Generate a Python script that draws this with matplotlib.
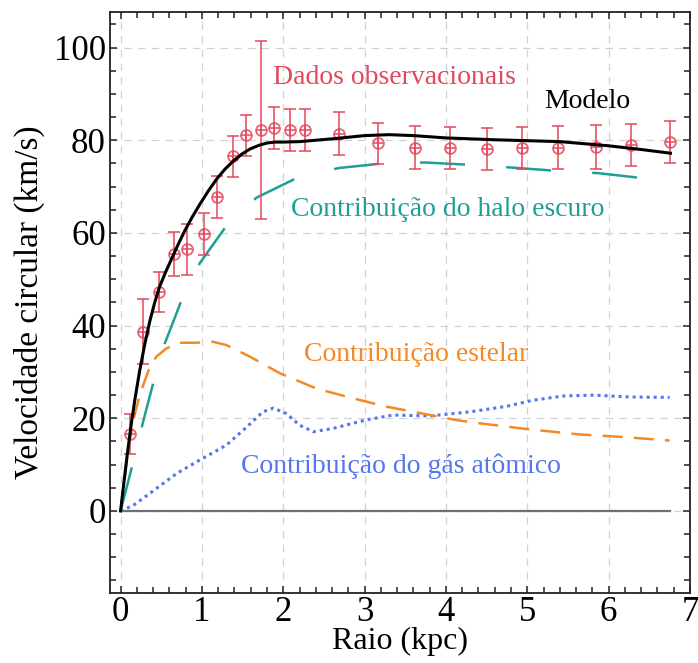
import numpy as np
import matplotlib
matplotlib.use('Agg')
import matplotlib.pyplot as plt
from matplotlib.ticker import MultipleLocator

plt.rcParams['font.family'] = ['Liberation Serif', 'DejaVu Serif']

# observed rotation curve
r_obs = [0.11, 0.27, 0.475, 0.655, 0.82, 1.02, 1.18, 1.38, 1.54, 1.73, 1.89, 2.08, 2.27,
         2.68, 3.17, 3.62, 4.05, 4.50, 4.93, 5.38, 5.85, 6.28, 6.75]
v_obs = [16.6, 38.7, 47.3, 55.4, 56.5, 59.8, 67.8, 76.5, 81.1, 82.2, 82.6, 82.2, 82.2,
         81.4, 79.3, 78.4, 78.3, 78.1, 78.3, 78.4, 78.5, 79.0, 79.6]
v_err = [4.4, 7.0, 4.3, 4.7, 5.5, 4.5, 4.5, 4.5, 4.4, 19.3, 4.5, 4.5, 4.5,
         4.6, 4.4, 4.6, 4.6, 4.6, 4.6, 4.6, 4.7, 4.6, 4.5]

# total model
r_mod = [0, 0.03, 0.06, 0.094, 0.13, 0.18, 0.237, 0.30, 0.36, 0.42, 0.48, 0.55, 0.627,
         0.71, 0.79, 0.88, 0.975, 1.08, 1.18, 1.28, 1.385, 1.49, 1.59, 1.70, 1.80, 1.90,
         2.0, 2.2, 2.6, 3.0, 3.3, 3.6, 4.0, 4.6, 5.4, 6.0, 6.4, 6.76]
v_mod = [0, 4.5, 9.0, 13.8, 18.6, 24.5, 30.5, 36.2, 41.0, 45.0, 48.4, 51.4, 54.4,
         57.6, 60.5, 63.4, 66.2, 69.1, 71.6, 73.7, 75.5, 77.0, 78.1, 78.9, 79.4, 79.6,
         79.6, 79.7, 80.3, 81.0, 81.2, 81.0, 80.5, 80.1, 79.7, 78.8, 78.0, 77.2]

# dark halo
r_halo = [0, 0.14, 0.26, 0.40, 0.545, 0.75, 0.975, 1.3, 1.67, 2.16, 2.68, 3.23, 3.74,
          4.29, 4.81, 5.36, 5.87, 6.43, 6.75]
v_halo = [0, 9.5, 18.1, 27.5, 36.2, 45.5, 53.5, 61.5, 67.6, 71.8, 74.0, 75.0, 75.2,
          74.7, 74.1, 73.4, 72.9, 71.8, 71.2]

# stellar disk
r_star = [0, 0.05, 0.1, 0.17, 0.24, 0.36, 0.44, 0.565, 0.73, 0.93, 1.14, 1.30, 1.59,
          1.96, 2.41, 2.86, 3.27, 3.6, 4.13, 4.42, 5.03, 5.65, 6.14, 6.75]
v_star = [0, 7.0, 14.0, 20.5, 25.3, 31.1, 33.3, 35.1, 36.3, 36.3, 36.5, 35.8, 33.3,
          29.7, 26.4, 24.3, 22.5, 21.4, 19.6, 18.9, 17.6, 16.5, 16.0, 15.2]

# atomic gas
r_gas = [0, 0.155, 0.36, 0.69, 0.975, 1.30, 1.55, 1.75, 1.88, 2.04, 2.2, 2.37, 2.61,
         3.03, 3.35, 3.80, 4.30, 4.75, 5.07, 5.44, 5.81, 6.26, 6.75]
v_gas = [0, 1.2, 3.8, 8.1, 11.0, 14.2, 18.1, 21.4, 22.2, 21.0, 18.5, 17.1, 17.8,
         19.7, 20.7, 20.5, 21.4, 22.6, 23.9, 24.8, 25.0, 24.6, 24.5]

C_RED = '#e3485c'
C_TEAL = '#1f9e97'
C_ORANGE = '#f28a26'
C_BLUE = '#5577ec'

fig = plt.figure(figsize=(6.98, 6.63), dpi=100)
ax = fig.add_axes([0.1576, 0.1056, 0.8309, 0.8758])

ax.plot([0, 6.75], [0, 0], color='#707070', lw=1.6, zorder=2)

ax.plot(r_gas, v_gas, color=C_BLUE, lw=2.2, linestyle=(0, (1, 1.3)), zorder=3)
ax.plot(r_star, v_star, color=C_ORANGE, lw=1.8, linestyle=(0, (8, 4.5)), zorder=3)
ax.plot(r_halo, v_halo, color=C_TEAL, lw=1.8, linestyle=(0, (18, 16.5)), zorder=3)

ax.errorbar(r_obs, v_obs, yerr=v_err, fmt='none', ecolor=C_RED, elinewidth=1.3,
            capsize=4.3, capthick=1.3, alpha=0.85, zorder=4)
ax.plot(r_obs, v_obs, 'o', ms=7.8, mfc='none', mec=C_RED, mew=1.3, alpha=0.85, zorder=5)
ax.plot(r_obs, v_obs, '+', ms=7.8, mec=C_RED, mew=1.3, alpha=0.85, zorder=5)

ax.plot(r_mod, v_mod, color='black', lw=2.2, zorder=6)

ax.text(1.87, 93.5, 'Dados observacionais', color=C_RED, fontsize=20, va='center')
ax.text(5.74, 88.3, 'Modelo', color='black', fontsize=20, ha='center', va='center')
ax.text(2.09, 65.0, 'Contribuição do halo escuro', color=C_TEAL, fontsize=20, va='center')
ax.text(2.26, 33.8, 'Contribuição estelar', color=C_ORANGE, fontsize=20, va='center')
ax.text(1.48, 9.6, 'Contribuição do gás atômico', color=C_BLUE, fontsize=20, va='center')

ax.set_xlim(-0.13, 7.0)
ax.set_ylim(-17.7, 107.6)
ax.xaxis.set_major_locator(MultipleLocator(1))
ax.xaxis.set_minor_locator(MultipleLocator(0.2))
ax.yaxis.set_major_locator(MultipleLocator(20))
ax.yaxis.set_minor_locator(MultipleLocator(5))
ax.tick_params(which='both', direction='in', top=True, right=True, width=1.1,
               color='#222222', labelsize=25, pad=3)
ax.tick_params(which='major', length=5)
ax.tick_params(which='minor', length=4)
ax.tick_params(axis='x', pad=2)
ax.grid(True, which='major', color='#d2d2d2', lw=0.9, linestyle=(0, (6, 5)))
for s in ax.spines.values():
    s.set_linewidth(1.3)
    s.set_color('#222222')

ax.set_xlabel('Raio (kpc)', fontsize=23, labelpad=-1)
ax.set_ylabel('Velocidade circular (km/s)', fontsize=24, labelpad=6)

fig.savefig('out.png', dpi=100)
